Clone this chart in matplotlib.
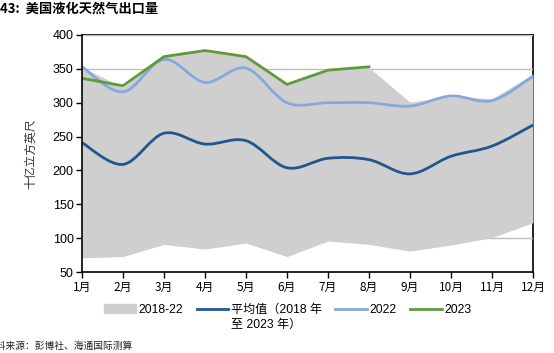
import matplotlib
matplotlib.use("Agg")
import matplotlib.pyplot as plt
from matplotlib.path import Path
from matplotlib.patches import PathPatch, Patch
from matplotlib.lines import Line2D
import numpy as np

plt.rcParams['font.family'] = ['Liberation Sans', 'Noto Sans CJK SC', 'DejaVu Sans']

months = ["1月", "2月", "3月", "4月", "5月", "6月", "7月", "8月", "9月", "10月", "11月", "12月"]
range_max = [352, 323, 368, 377, 368, 327, 348, 352, 301, 309, 306, 342]
range_min = [71, 73, 91, 84, 93, 73, 96, 91, 81, 90, 101, 123]
avg_vals = [241, 209, 255, 239, 244, 204, 218, 216, 195, 221, 236, 267]
y2022 = [353, 316, 364, 330, 351, 300, 300, 300, 295, 310, 303, 339]
y2023 = [336, 325, 368, 377, 368, 327, 348, 353]

yticks = [50, 100, 150, 200, 250, 300, 350, 400]

c_area = "#d0cfd0"
c_avg = "#23558f"
c_22 = "#86a8dc"
c_23 = "#5f9b3c"


def smooth_path(x, y, t=1/6):
    x = np.asarray(x, float); y = np.asarray(y, float)
    n = len(x)
    verts = [(x[0], y[0])]
    codes = [Path.MOVETO]
    for i in range(n - 1):
        p0 = (x[i-1], y[i-1]) if i > 0 else (x[i], y[i])
        p1 = (x[i], y[i]); p2 = (x[i+1], y[i+1])
        p3 = (x[i+2], y[i+2]) if i + 2 < n else (x[i+1], y[i+1])
        c1 = (p1[0] + (p2[0]-p0[0])*t, p1[1] + (p2[1]-p0[1])*t)
        c2 = (p2[0] - (p3[0]-p1[0])*t, p2[1] - (p3[1]-p1[1])*t)
        verts += [c1, c2, p2]
        codes += [Path.CURVE4]*3
    return Path(verts, codes)


fig = plt.figure(figsize=(5.54, 3.53), dpi=100)
ax = fig.add_axes([0.148, 0.229, 0.814, 0.672])

x = np.arange(len(months))
ax.fill_between(x, range_min, range_max, color=c_area, lw=0, zorder=1)
ax.add_patch(PathPatch(smooth_path(x, avg_vals), fill=False, ec=c_avg, lw=2, zorder=3, capstyle='round'))
ax.add_patch(PathPatch(smooth_path(x, y2022), fill=False, ec=c_22, lw=2, zorder=3, capstyle='round'))
ax.plot(np.arange(len(y2023)), y2023, color=c_23, lw=2, zorder=4)

ax.set_xlim(0, len(months) - 1)
ax.set_ylim(50, 400)
ax.set_yticks(yticks)
ax.set_xticks(x)
ax.set_xticklabels(months, family=['Noto Sans CJK SC'], fontsize=8.5)
ax.tick_params(axis='y', labelsize=9, length=4, direction='out', width=1, pad=2)
ax.tick_params(axis='x', length=4, direction='out', width=1, pad=2)
ax.grid(axis='y', color='#bfbfbf', lw=1, zorder=0)
ax.set_axisbelow(True)
for s in ['top', 'right', 'left', 'bottom']:
    ax.spines[s].set_color('black')
    ax.spines[s].set_linewidth(1.2)
ax.spines['right'].set_zorder(0.5)
ax.spines['top'].set_zorder(0.5)
ax.spines['left'].set_zorder(5)
ax.spines['bottom'].set_zorder(5)

ax.set_ylabel("十亿立方英尺", family=['Noto Sans CJK SC'], fontsize=8.5, color='#333333', labelpad=11)

fig.text(0.0, 0.975, "43:  美国液化天然气出口量", family=['Noto Sans CJK SC'], fontsize=9.5,
         fontweight='bold', va='center', ha='left')
fig.text(-0.025, 0.02, "资料来源：彭博社、海通国际测算", family=['Noto Sans CJK SC'], fontsize=7,
         va='center', ha='left', color='#222222')

handles = [Patch(color=c_area), Line2D([], [], color=c_avg, lw=2),
           Line2D([], [], color=c_22, lw=2), Line2D([], [], color=c_23, lw=2)]
labels = ["2018-22", "平均值（2018 年", "2022", "2023"]
leg = fig.legend(handles, labels, ncol=4, loc='center', bbox_to_anchor=(0.52, 0.122),
                 frameon=False, handlelength=2.6, handletextpad=0.25,
                 columnspacing=1.1, prop={'family': ['Liberation Sans', 'Noto Sans CJK SC'], 'size': 8.7})

fig.canvas.draw()
t = leg.get_texts()[1]
bb = t.get_window_extent(fig.canvas.get_renderer())
fig.text(bb.x0 / fig.bbox.width, (bb.y0 - 9) / fig.bbox.height, "至 2023 年）",
         family=['Liberation Sans', 'Noto Sans CJK SC'], fontsize=8.7, ha='left', va='center')

fig.savefig("out.png", dpi=100)
